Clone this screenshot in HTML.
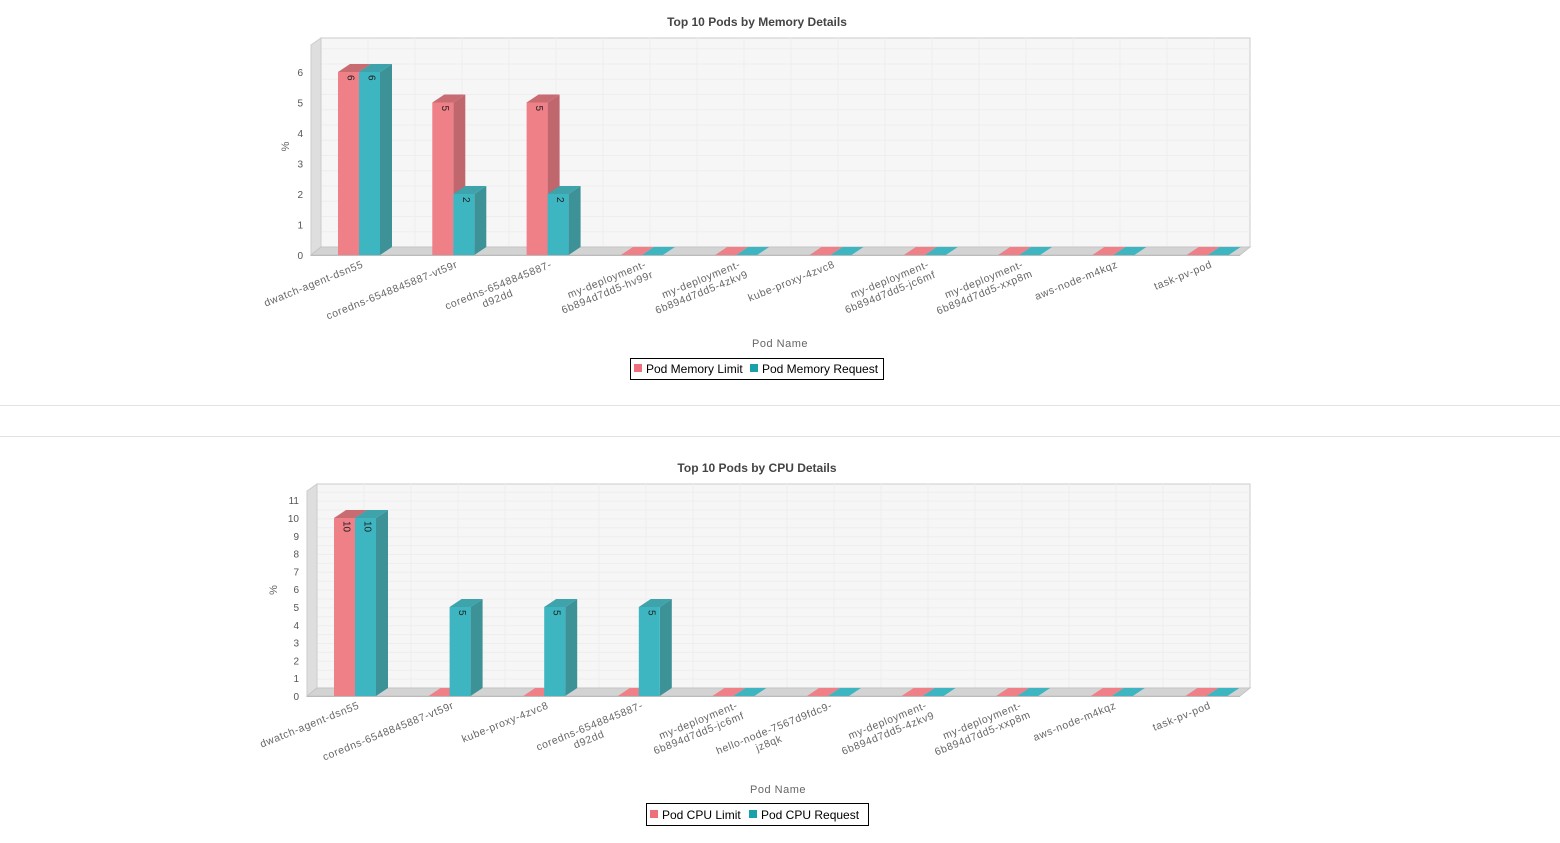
<!DOCTYPE html>
<html><head><meta charset="utf-8"><style>
body{margin:0;background:#fff;width:1560px;height:843px;overflow:hidden;font-family:"Liberation Sans",sans-serif}
svg{position:absolute;left:0;top:0}
</style></head><body>
<svg id="s" width="1560" height="843" xmlns="http://www.w3.org/2000/svg" font-family="Liberation Sans, sans-serif">
<line x1="0" y1="405.5" x2="1560" y2="405.5" stroke="#e2e2e2"/>
<line x1="0" y1="436.5" x2="1560" y2="436.5" stroke="#e2e2e2"/>
<text x="757" y="26" font-size="12" font-weight="bold" fill="#444" text-anchor="middle">Top 10 Pods by Memory Details</text>
<text x="757" y="472" font-size="12" font-weight="bold" fill="#444" text-anchor="middle">Top 10 Pods by CPU Details</text>
<text x="780" y="347" font-size="11" fill="#666" text-anchor="middle" letter-spacing="0.5">Pod Name</text>
<text x="778" y="793" font-size="11" fill="#666" text-anchor="middle" letter-spacing="0.5">Pod Name</text>
<rect x="630.5" y="358.5" width="253" height="21" fill="#fff" stroke="#000"/>
<rect x="634" y="364" width="8" height="8" fill="#ee6f79"/><text x="646" y="373" font-size="12" fill="#000">Pod Memory Limit</text>
<rect x="750" y="364" width="8" height="8" fill="#1aa0ab"/><text x="762" y="373" font-size="12" fill="#000">Pod Memory Request</text>
<rect x="646.5" y="803.5" width="222" height="22" fill="#fff" stroke="#000"/>
<rect x="650" y="810" width="8" height="8" fill="#ee6f79"/><text x="662" y="819" font-size="12" fill="#000">Pod CPU Limit</text>
<rect x="749" y="810" width="8" height="8" fill="#1aa0ab"/><text x="761" y="819" font-size="12" fill="#000">Pod CPU Request</text>
<g id="g"></g>
</svg>
<script>
var g=document.getElementById('g'),h='';
function chart(o){
 var L=o.L,R=o.R,B=o.B,T=o.T,u=o.u;
 h+='<rect x="'+(L+10)+'" y="'+(T)+'" width="'+(R-L)+'" height="'+(B-8-T)+'" fill="#f6f6f6" stroke="#ccc"/>';
 for(var y=B-8;y>T;y-=u/2) h+='<line x1="'+(L+10)+'" x2="'+(R+10)+'" y1="'+y+'" y2="'+y+'" stroke="#eee"/>';
 for(var x=L+10;x<R+10;x+=47) h+='<line x1="'+x+'" x2="'+x+'" y1="'+T+'" y2="'+(B-8)+'" stroke="#eee"/>';
 h+='<polygon points="'+L+','+(T+7)+' '+(L+10)+','+T+' '+(L+10)+','+(B-8)+' '+L+','+B+'" fill="#dedede" stroke="#ccc"/>';
 h+='<polygon points="'+L+','+B+' '+(L+10)+','+(B-8)+' '+(R+10)+','+(B-8)+' '+R+','+B+'" fill="#d3d3d3" stroke="#c4c4c4"/>';
 h+='<line x1="'+L+'" x2="'+R+'" y1="'+(B+0.5)+'" y2="'+(B+0.5)+'" stroke="#bbb"/>';
 for(var i=0;i<=o.max;i++){h+='<text x="'+(L-8)+'" y="'+(B-i*u+4)+'" font-size="10" fill="#555" text-anchor="end">'+i+'</text>';}
 h+='<text transform="translate('+o.px+','+((B+T)/2)+') rotate(-90)" font-size="11" fill="#666" text-anchor="middle">%</text>';
 for(var k=0;k<10;k++){
  var x0=o.x0+k*o.sp;
  [[o.a[k],'#f08088','#c0666d','#c96c72',0],[o.b[k],'#3db6c1','#3d9298','#3ea3ab',21]].forEach(function(s){
   var x=x0+s[4],v=s[0],y=B-v*u,w=21;
   if(v>0){
    h+='<polygon points="'+(x+w)+','+y+' '+(x+w+12)+','+(y-8)+' '+(x+w+12)+','+(B-8)+' '+(x+w)+','+B+'" fill="'+s[2]+'"/>';
    h+='<rect x="'+x+'" y="'+y+'" width="'+w+'" height="'+(B-y)+'" fill="'+s[1]+'"/>';
    h+='<polygon points="'+x+','+y+' '+(x+w)+','+y+' '+(x+w+12)+','+(y-8)+' '+(x+12)+','+(y-8)+'" fill="'+s[3]+'"/>';
    h+='<text transform="translate('+(x+w/2-1)+','+(y+3)+') rotate(90)" font-size="10" fill="#222">'+v+'</text>';
   } else {
    h+='<polygon points="'+x+','+B+' '+(x+w)+','+B+' '+(x+w+12)+','+(B-8)+' '+(x+12)+','+(B-8)+'" fill="'+s[1]+'"/>';
   }
  });
  var lb=o.l[k],ax=x0+26,ay=B+12;
  h+='<g transform="translate('+ax+','+ay+') rotate(-22)" font-size="10.5" fill="#666" letter-spacing="0.6">';
  h+='<text x="0" y="0" text-anchor="end">'+lb[0]+'</text>';
  if(lb.length>1){h+='<text x="'+(-lb[0].length*3.3)+'" y="12" text-anchor="middle">'+lb[1]+'</text>';}
  h+='</g>';
 }
}
chart({L:311,R:1240,B:255,T:38,u:30.5,max:6,px:289,x0:338,sp:94.3,
 a:[6,5,5,0,0,0,0,0,0,0],b:[6,2,2,0,0,0,0,0,0,0],
 l:[['dwatch-agent-dsn55'],['coredns-6548845887-vt59r'],['coredns-6548845887-','d92dd'],['my-deployment-','6b894d7dd5-hv99r'],['my-deployment-','6b894d7dd5-4zkv9'],['kube-proxy-4zvc8'],['my-deployment-','6b894d7dd5-jc6mf'],['my-deployment-','6b894d7dd5-xxp8m'],['aws-node-m4kqz'],['task-pv-pod']]});
chart({L:307,R:1240,B:696,T:484,u:17.8,max:11,px:277,x0:334,sp:94.6,
 a:[10,0,0,0,0,0,0,0,0,0],b:[10,5,5,5,0,0,0,0,0,0],
 l:[['dwatch-agent-dsn55'],['coredns-6548845887-vt59r'],['kube-proxy-4zvc8'],['coredns-6548845887-','d92dd'],['my-deployment-','6b894d7dd5-jc6mf'],['hello-node-7567d9fdc9-','jz8qk'],['my-deployment-','6b894d7dd5-4zkv9'],['my-deployment-','6b894d7dd5-xxp8m'],['aws-node-m4kqz'],['task-pv-pod']]});
g.innerHTML=h;
</script>
</body></html>
